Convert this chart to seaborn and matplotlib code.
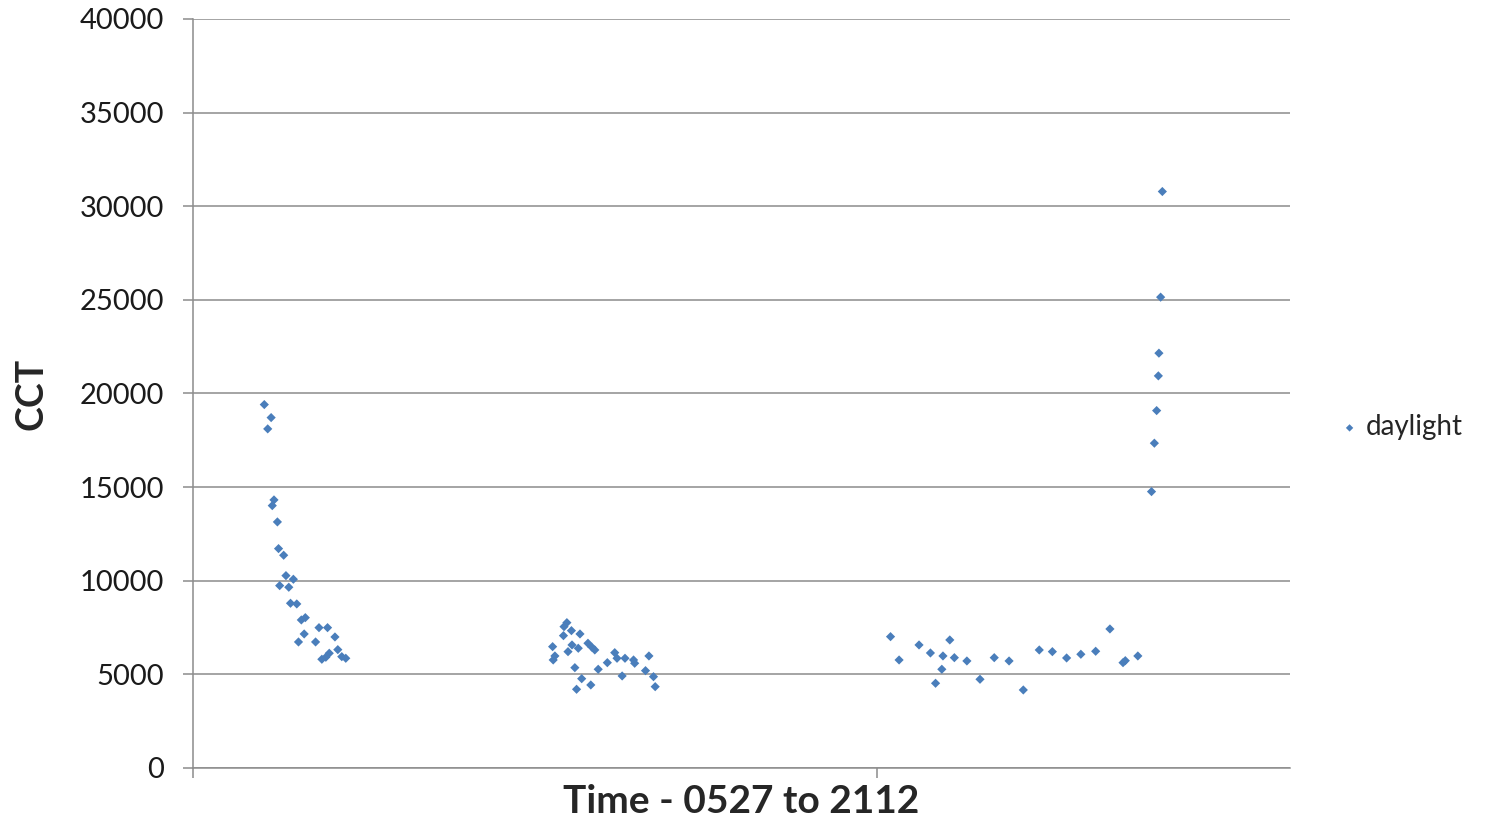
import matplotlib
matplotlib.use("Agg")
import matplotlib.pyplot as plt
import seaborn as sns
import pandas as pd

# time of day in hours, CCT in kelvin
time_h = [
    5.45, 5.57, 5.51, 5.62, 5.59, 5.68, 5.70, 5.79, 5.83, 5.96, 5.72, 5.88, 5.91, 6.02,
    6.10, 6.17, 6.41, 6.56, 6.15, 6.69, 6.05, 6.35, 6.74, 6.59, 6.53, 6.46, 6.81, 6.88,
    10.76, 10.71, 10.84, 10.99, 10.70, 10.51, 10.85, 10.96, 10.78, 11.13, 11.20, 11.25,
    10.55, 10.52, 11.60, 11.64, 11.78, 11.47, 11.93, 11.95, 12.20, 10.90, 11.31, 12.14,
    11.02, 11.73, 12.28, 10.93, 11.18, 12.31,
    16.44, 16.59, 16.94, 17.14, 17.48, 17.36, 17.56, 17.78, 17.34, 17.23, 18.01, 18.26,
    18.52, 18.77, 19.05, 19.28, 19.53, 19.78, 20.04, 20.29, 20.52, 20.56, 20.78,
    21.21, 21.18, 21.15, 21.14, 21.11, 21.07, 21.02,
]
cct = [
    19408, 18713, 18110, 14317, 14012, 13141, 11716, 11362, 10273, 10080, 9739, 9653, 8798, 8761,
    7906, 8029, 7495, 7495, 7158, 6998, 6731, 6731, 6320, 6128, 5914, 5807, 5946, 5860,
    7762, 7548, 7335, 7158, 7068, 6480, 6571, 6395, 6213, 6662, 6448, 6303,
    5983, 5769, 6159, 5860, 5860, 5625, 5769, 5593, 5983, 5358, 5272, 5198,
    4770, 4915, 4877, 4204, 4434, 4343,
    7014, 5769, 6571, 6143, 6838, 5983, 5892, 5716, 5272, 4525, 4738, 5892,
    5716, 4167, 6303, 6213, 5876, 6074, 6234, 7425, 5625, 5732, 5983,
    30786, 25145, 22154, 20941, 19087, 17346, 14760,
]
series_name = "daylight"
y_ticks = [0, 5000, 10000, 15000, 20000, 25000, 30000, 35000, 40000]

df = pd.DataFrame({"time": time_h, "CCT": cct})

sns.set_style("white")
plt.rcParams["font.family"] = ["Lato", "DejaVu Sans"]

fig = plt.figure(figsize=(14.92, 8.22), dpi=100)
ax = fig.add_axes([0.1294, 0.0657, 0.7352, 0.9112])

sns.scatterplot(data=df, x="time", y="CCT", ax=ax, marker="D", s=22,
                color="#4A7EBB", edgecolor="none", label=series_name, zorder=3)

ax.set_xlim(4.2, 23.45)
ax.set_ylim(0, 40000)
ax.set_yticks(y_ticks)
ax.set_yticklabels([str(v) for v in y_ticks], fontsize=21, color="#1a1a1a")
ax.set_xticks([4.2, 16.2])
ax.set_xticklabels(["", ""])
ax.grid(axis="y", color="#8c8c8c", linewidth=1.1)
ax.grid(axis="x", visible=False)
for s in ["top", "right"]:
    ax.spines[s].set_visible(False)
for s in ["left", "bottom"]:
    ax.spines[s].set_color("#8c8c8c")
    ax.spines[s].set_linewidth(1.1)
ax.tick_params(axis="y", which="both", left=True, length=7, width=1.1,
               color="#8c8c8c", pad=14)
ax.tick_params(axis="x", which="both", bottom=True, length=7, width=1.1,
               color="#8c8c8c")

ax.set_xlabel("Time - 0527 to 2112", fontsize=28, fontweight="bold")
ax.xaxis.set_label_coords(0.5, -0.022)
ax.xaxis.label.set_verticalalignment("top")
ax.set_ylabel("CCT", fontsize=27, fontweight="bold")
ax.yaxis.set_label_coords(-0.132, 0.5)

leg = ax.legend(loc="center left", bbox_to_anchor=(1.029, 0.455), frameon=False,
                fontsize=20, handletextpad=0.1, handlelength=1.0, borderpad=0,
                markerscale=0.8)

fig.savefig("out.png", dpi=100)
